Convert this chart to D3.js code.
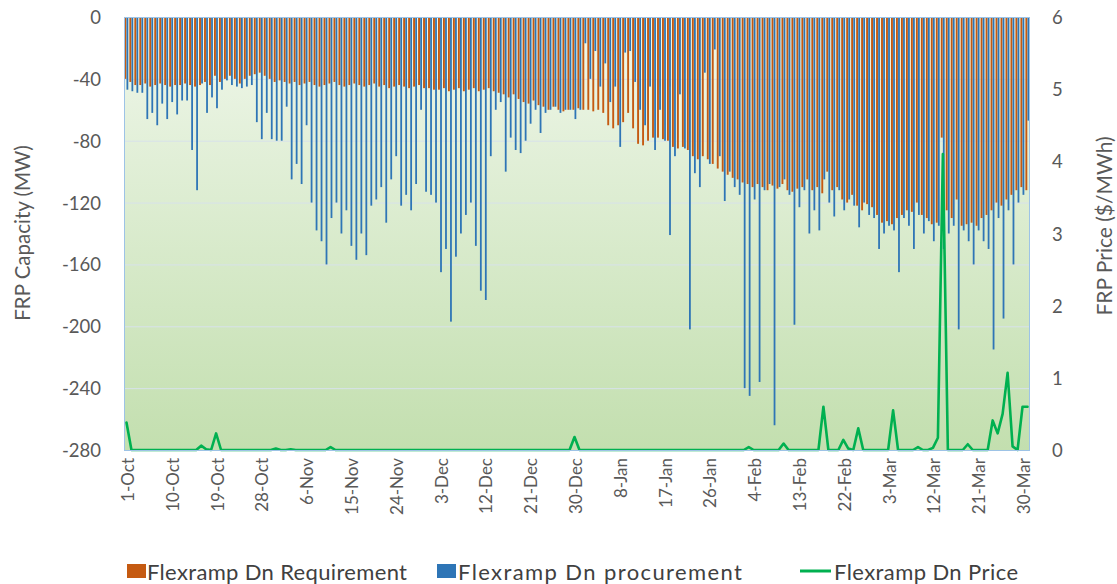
<!DOCTYPE html>
<html>
<head>
<meta charset="utf-8">
<script src="https://cdn.jsdelivr.net/npm/d3@7"></script>
<style>
  html, body { margin: 0; padding: 0; background: #ffffff; }
  svg { display: block; font-family: Lato, "Open Sans", sans-serif; }
</style>
</head>
<body>
<svg id="chart" width="1117" height="584"></svg>
<script>
// ---------------- DATA ----------------
const startDate = "2018-10-01"; // 182 daily categories, 1-Oct .. 31-Mar
const dayCount = 182;

// Flexramp Dn Requirement (MW, shown as negative)
const requirementOct = [40,42,44,44,43,45,44,43,44,45,44,44,43,44,45,44,42,44,38,42,40,38,40,43,40,38,37,36,38,40,42];
const requirementNov = [41,42,43,42,44,43,42,44,45,44,43,42,44,45,44,43,44,45,44,43,45,44,46,45,44,45,46,45,44,46];
const requirementDec = [46,47,47,46,48,47,46,48,47,46,48,47,46,48,49,50,52,50,53,55,56,54,57,58,60,58,60,61,60,60,59];
const requirementJan = [60,60,61,60,62,70,72,70,68,62,72,82,83,80,78,78,79,80,84,85,84,86,90,92,90,92,95,98,100,102,104];
const requirementFeb = [105,107,108,110,108,110,112,109,111,108,112,113,111,110,105,112,110,114,100,112,110,118,120,115,122,125,121,123];
const requirementMar = [128,133,132,134,130,128,125,126,120,128,130,134,133,78,125,130,118,135,134,133,135,130,128,125,120,122,118,115,112,110,112];

// Flexramp Dn procurement (MW, shown as negative)
const procurementOct = [47,48,49,49,66,62,70,56,66,55,63,54,54,86,112,43,62,52,59,47,41,44,45,46,45,44,68,79,62,79,80];
const procurementNov = [80,58,105,95,108,70,120,138,145,160,130,120,140,125,148,157,140,154,122,118,110,133,105,90,122,115,125,108,60,113];
const procurementDec = [115,120,165,150,197,155,140,128,120,148,177,183,90,60,55,100,78,86,88,80,69,60,75,62,60,58,62,60,60,66,60];
const procurementJan = [17,40,22,45,30,55,45,84,23,22,42,60,70,45,86,60,80,141,90,50,85,202,101,110,36,95,21,90,119,100,110];
const procurementFeb = [115,240,245,118,236,112,108,264,110,105,115,199,123,112,140,125,138,105,120,129,112,125,118,122,136,120,128,130];
const procurementMar = [150,140,135,138,165,130,135,150,128,140,132,145,135,150,140,135,202,138,145,160,138,145,150,215,130,195,125,160,120,115,67];

// Flexramp Dn Price ($/MWh), non-zero days (day index -> price); all other days are 0
const priceDays   = [0,    15,   16,   18,   30,   33,   41,   90,   125,  132,  140, 144,  145,  147, 154,  159,  162,  163,  164, 169,  174,  175,  176, 177,  178,  180, 181];
const priceValues = [0.38, 0.06, 0.01, 0.23, 0.02, 0.01, 0.04, 0.18, 0.04, 0.09, 0.6, 0.14, 0.02, 0.3, 0.55, 0.04, 0.03, 0.17, 4.1, 0.08, 0.41, 0.23, 0.5, 1.07, 0.05, 0.6, 0.6];

const tickIndex  = [0, 9, 18, 27, 36, 45, 54, 63, 72, 81, 90, 99, 108, 117, 126, 135, 144, 153, 162, 171, 180];
const tickLabels = ["1-Oct","10-Oct","19-Oct","28-Oct","6-Nov","15-Nov","24-Nov","3-Dec","12-Dec","21-Dec","30-Dec","8-Jan","17-Jan","26-Jan","4-Feb","13-Feb","22-Feb","3-Mar","12-Mar","21-Mar","30-Mar"];

const leftTicks  = [0, -40, -80, -120, -160, -200, -240, -280];
const rightTicks = [0, 1, 2, 3, 4, 5, 6];

const seriesNames = ["Flexramp Dn Requirement", "Flexramp Dn procurement", "Flexramp Dn Price"];
const colors = { req: "#c55a11", proc: "#2e75b6", price: "#00b050" };

// ---------------- BUILD ----------------
const requirement = [].concat(requirementOct, requirementNov, requirementDec, requirementJan, requirementFeb, requirementMar);
const procurement = [].concat(procurementOct, procurementNov, procurementDec, procurementJan, procurementFeb, procurementMar);
const price = d3.range(dayCount).map(() => 0);
priceDays.forEach((d, i) => { price[d] = priceValues[i]; });
const days = d3.range(dayCount);

const svg = d3.select("#chart");
const plot = { left: 124, right: 1030, top: 17, bottom: 450 };

const x = d3.scaleBand().domain(days).range([plot.left, plot.right]).paddingInner(0).paddingOuter(0);
const yL = d3.scaleLinear().domain([-280, 0]).range([plot.bottom, plot.top]);
const yR = d3.scaleLinear().domain([0, 6]).range([plot.bottom, plot.top]);

// background gradient
const defs = svg.append("defs");
const grad = defs.append("linearGradient").attr("id", "bg").attr("x1", 0).attr("y1", 0).attr("x2", 0).attr("y2", 1);
grad.append("stop").attr("offset", "0%").attr("stop-color", "#f0f7eb");
grad.append("stop").attr("offset", "100%").attr("stop-color", "#c3dfaf");

svg.append("rect")
  .attr("x", plot.left).attr("y", plot.top)
  .attr("width", plot.right - plot.left).attr("height", plot.bottom - plot.top)
  .attr("fill", "url(#bg)");

// gridlines
svg.append("g").selectAll("line").data(leftTicks.filter(t => t !== 0 && t !== -280)).join("line")
  .attr("x1", plot.left).attr("x2", plot.right)
  .attr("y1", d => yL(d) + 0.5).attr("y2", d => yL(d) + 0.5)
  .attr("stroke", "#d7e2ea").attr("stroke-width", 1);

// bars
const bw = x.bandwidth();
svg.append("g").selectAll("rect").data(days).join("rect")
  .attr("x", d => x(d) + bw * 0.08)
  .attr("y", yL(0))
  .attr("width", bw * 0.38)
  .attr("height", d => yL(-requirement[d]) - yL(0))
  .attr("fill", colors.req);

svg.append("g").selectAll("rect").data(days).join("rect")
  .attr("x", d => x(d) + bw * 0.5)
  .attr("y", yL(0))
  .attr("width", bw * 0.36)
  .attr("height", d => yL(-procurement[d]) - yL(0))
  .attr("fill", colors.proc);

// price line
const line = d3.line().x(d => x(d) + bw / 2).y(d => yR(price[d]));
svg.append("path").datum(days)
  .attr("d", line)
  .attr("fill", "none")
  .attr("stroke", colors.price)
  .attr("stroke-width", 2.6)
  .attr("stroke-linejoin", "round")
  .attr("stroke-linecap", "round");

// plot border
svg.append("rect")
  .attr("x", plot.left + 0.5).attr("y", plot.top + 0.5)
  .attr("width", plot.right - plot.left - 1).attr("height", plot.bottom - plot.top)
  .attr("fill", "none").attr("stroke", "#9dc3e6").attr("stroke-width", 1);

// left axis labels
const txtColor = "#595959";
svg.append("g").selectAll("text").data(leftTicks).join("text")
  .attr("x", 101).attr("y", d => yL(d))
  .attr("text-anchor", "end").attr("dominant-baseline", "central")
  .attr("font-size", 18.5).attr("fill", txtColor)
  .text(d => d);

// right axis labels
svg.append("g").selectAll("text").data(rightTicks).join("text")
  .attr("x", 1052).attr("y", d => yR(d))
  .attr("text-anchor", "start").attr("dominant-baseline", "central")
  .attr("font-size", 18.5).attr("fill", txtColor)
  .text(d => d);

// x labels
svg.append("g").selectAll("text").data(tickIndex).join("text")
  .attr("transform", (d) => `translate(${x(d) + bw / 2 + 1},${plot.bottom + 8}) rotate(-90)`)
  .attr("text-anchor", "end").attr("dominant-baseline", "central")
  .attr("font-size", 17).attr("fill", txtColor)
  .text((d, i) => tickLabels[i]);

// axis titles
svg.append("text")
  .attr("transform", `translate(22,233) rotate(-90)`)
  .attr("text-anchor", "middle").attr("dominant-baseline", "central")
  .attr("font-size", 20.5).attr("fill", txtColor)
  .text("FRP Capacity (MW)");
svg.append("text")
  .attr("transform", `translate(1103,226) rotate(-90)`)
  .attr("text-anchor", "middle").attr("dominant-baseline", "central")
  .attr("font-size", 21).attr("fill", txtColor)
  .text("FRP Price ($/MWh)");

// legend
const legendY = 571;
const lg = svg.append("g").attr("font-size", 22).attr("fill", "#404040");
lg.append("rect").attr("x", 127).attr("y", legendY - 7).attr("width", 19).attr("height", 14).attr("fill", colors.req);
lg.append("text").attr("x", 147).attr("y", legendY).attr("dominant-baseline", "central")
  .attr("textLength", 260).attr("lengthAdjust", "spacing").text(seriesNames[0]);
lg.append("rect").attr("x", 437).attr("y", legendY - 7).attr("width", 19).attr("height", 14).attr("fill", colors.proc);
lg.append("text").attr("x", 458).attr("y", legendY).attr("dominant-baseline", "central")
  .attr("textLength", 284).attr("lengthAdjust", "spacing").text(seriesNames[1]);
lg.append("line").attr("x1", 800).attr("x2", 831).attr("y1", legendY).attr("y2", legendY)
  .attr("stroke", colors.price).attr("stroke-width", 3);
lg.append("text").attr("x", 834).attr("y", legendY).attr("dominant-baseline", "central")
  .attr("textLength", 184).attr("lengthAdjust", "spacing").text(seriesNames[2]);
</script>
</body>
</html>
